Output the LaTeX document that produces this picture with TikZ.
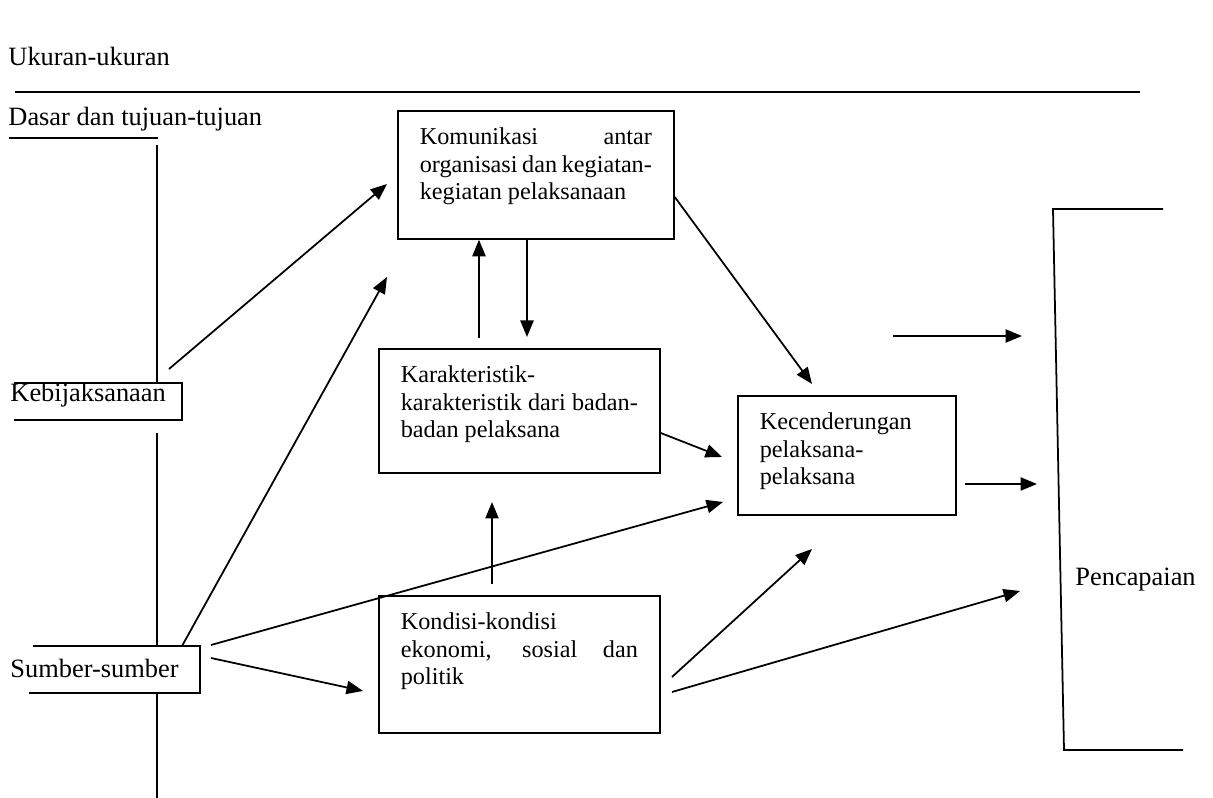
\documentclass[tikz,border=0pt]{standalone}
\usepackage{fontspec}
\setmainfont{Liberation Serif}
\usetikzlibrary{arrows.meta}

\newlength{\px}
\setlength{\px}{0.4545pt}
\newcommand{\boxlines}[3]{\parbox[c][#1\px][t]{#2\px}{\fontsize{11}{12.5}\selectfont #3}}
\newcommand{\jline}[1]{\makebox[\linewidth][s]{#1}}

\begin{document}
\begin{tikzpicture}[
x=\px, y=-\px,
box/.style={draw, line width=0.8pt, anchor=north west, inner xsep=22\px, inner ysep=17\px},
lbl/.style={anchor=base west, inner sep=0pt, font=\fontsize{12}{14}\selectfont},
plain/.style={line width=0.8pt},
arr/.style={line width=0.8pt, -{Triangle[length=7.5pt,width=6pt]}}]

\useasboundingbox (0,0) rectangle (1213,798);

%% boxes in the middle
\node[box] (kom) at (397,110) {\boxlines{94}{232}{\jline{Komunikasi antar}\\ \jline{organisasi dan kegiatan-}\\ kegiatan pelaksanaan}};
\node[box] (kar) at (378,348) {\boxlines{90}{237}{Karakteristik-\\ \jline{karakteristik dari badan-}\\ badan pelaksana}};
\node[box] (kon) at (378,595) {\boxlines{103}{237}{Kondisi-kondisi\\ \jline{ekonomi, sosial dan}\\ politik}};
\node[box] (kec) at (737,395) {\boxlines{85}{174}{Kecenderungan\\ pelaksana-\\ pelaksana}};

%% labels on the left and right
\node[lbl] (ukuran) at (8,66) {Ukuran-ukuran};
\node[lbl] (dasar) at (8,126) {Dasar dan tujuan-tujuan};
\node[lbl] (bijak) at (10,402) {Kebijaksanaan};
\node[lbl] (sumber) at (10,678) {Sumber-sumber};
\node[lbl] (capai) at (1075,586) {Pencapaian};

%% rules and open frames
\draw[plain] (15,92) -- (1140,92);
\draw[plain] (9,138) -- (158,138);
\draw[plain] (157,145) -- (157,383);
\draw[plain] (14,383) -- (182,383) -- (182,420) -- (14,420);
\draw[plain] (157,433) -- (157,646);
\draw[plain] (33,646) -- (200,646) -- (200,693) -- (29,693);
\draw[plain] (157,693) -- (157,798);
\draw[plain] (1163,209) -- (1053,209) -- (1064,750) -- (1183,750);

%% free ends of the arrows
\coordinate (bijak-out) at (169,369);
\coordinate (sumber-up) at (182,646);
\coordinate (sumber-a) at (211,645);
\coordinate (sumber-b) at (211,658);
\coordinate (kon-a) at (672,677);
\coordinate (kon-b) at (672,692);
\coordinate (kar-up) at (479,338);
\coordinate (kar-down) at (527,337);
\coordinate (kon-up) at (492,584);
\coordinate (kon-tip) at (492,502);
\coordinate (kom-tip-a) at (387,184);
\coordinate (kom-tip-b) at (387,277);
\coordinate (kon-in) at (363,691);
\coordinate (kec-in-a) at (812,384);
\coordinate (kec-in-b) at (722,457);
\coordinate (kec-in-c) at (723,502);
\coordinate (kec-in-d) at (812,549);
\coordinate (capai-in) at (1020,591);

%% arrows
\foreach \a/\b in {bijak-out/kom-tip-a, sumber-up/kom-tip-b, sumber-a/kec-in-c,
                   sumber-b/kon-in, kon-up/kon-tip, kon-a/kec-in-d, kon-b/capai-in}
      \draw[arr] (\a) -- (\b);
\draw[arr] (kar-up) -- (479,0 |- kom.south);
\draw[arr] (527,0 |- kom.south) -- (kar-down);
\draw[arr] (kar.east |- 0,433) -- (kec-in-b);
\draw[arr] (kom.east |- 0,197) -- (kec-in-a);
\draw[arr] (893,336) -- (1022,336);
\draw[arr] (kec.east |- 0,484) ++(8,0) -- (1037,484);

\end{tikzpicture}
\end{document}
